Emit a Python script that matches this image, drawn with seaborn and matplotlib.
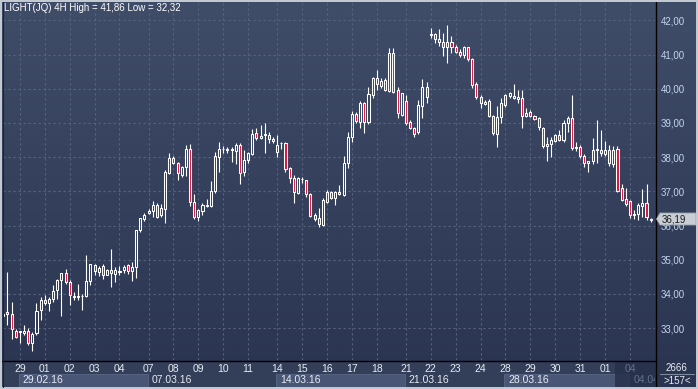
import numpy as np
import pandas as pd
import matplotlib
matplotlib.use("Agg")
import matplotlib.pyplot as plt
import matplotlib.patches as mpatches
from matplotlib.lines import Line2D
import seaborn as sns

# ---------------- data ----------------
opens = [33.40, 33.47, 33.42, 32.92, 32.89, 32.87, 32.91, 32.55, 32.87, 33.54,
         33.81, 33.74, 33.84, 34.10, 34.40, 34.62, 34.35, 33.92, 33.92, 33.93,
         33.93, 34.38, 34.84, 34.64, 34.81, 34.56, 34.69, 34.58, 34.65, 34.70,
         34.84, 34.68, 34.80, 35.87, 36.19, 36.36, 36.43, 36.60, 36.31, 36.47,
         37.54, 37.96, 37.82, 37.48, 37.72, 38.24, 36.70, 36.24, 36.43, 36.57,
         36.57, 37.00, 38.01, 38.23, 38.21, 38.22, 38.19, 38.35, 37.55, 37.92,
         38.09, 38.70, 38.55, 38.65, 38.65, 38.52, 38.15, 38.40, 38.40, 37.67,
         37.38, 36.96, 37.35, 37.33, 36.92, 36.31, 36.21, 36.02, 36.70, 36.99,
         36.81, 36.97, 36.89, 37.82, 38.60, 39.25, 39.02, 39.57, 39.02, 39.82,
         40.30, 40.09, 40.25, 39.93, 41.03, 39.96, 39.23, 39.64, 39.02, 38.84,
         38.74, 39.50, 40.06, 41.57, 41.60, 41.44, 41.38, 41.23, 41.38, 41.21,
         41.07, 40.98, 41.21, 40.87, 40.13, 39.75, 39.55, 39.65, 39.20, 38.68,
         39.16, 39.52, 39.80, 39.79, 39.71, 39.72, 39.20, 39.31, 39.20, 39.14,
         38.84, 38.33, 38.37, 38.47, 38.66, 38.50, 38.99, 39.13, 38.26, 38.30,
         38.03, 37.82, 37.88, 38.20, 38.20, 38.10, 38.20, 37.79, 38.24, 37.09,
         36.77, 36.72, 36.31, 36.33, 36.58, 36.65, 36.16]
highs = [33.52, 34.64, 33.77, 32.97, 32.92, 33.10, 32.99, 32.89, 33.72, 33.91,
         33.96, 33.91, 34.25, 34.45, 34.62, 34.74, 34.40, 34.06, 34.28, 34.01,
         35.13, 34.86, 34.86, 34.81, 34.86, 34.74, 35.30, 34.80, 34.82, 34.84,
         34.87, 34.94, 35.87, 36.23, 36.36, 36.47, 36.73, 36.67, 36.62, 37.62,
         38.11, 38.03, 37.87, 37.74, 38.35, 38.38, 36.92, 36.48, 36.65, 36.77,
         37.30, 38.16, 38.45, 38.32, 38.29, 38.30, 38.42, 38.42, 38.21, 38.16,
         38.81, 38.84, 38.94, 38.99, 38.74, 38.58, 38.65, 38.45, 38.45, 37.72,
         37.48, 37.41, 37.41, 37.33, 36.96, 36.38, 36.50, 36.80, 37.04, 37.01,
         37.01, 37.18, 38.04, 38.72, 39.36, 39.33, 39.64, 39.62, 40.06, 40.35,
         40.55, 40.30, 40.30, 41.18, 41.18, 40.06, 39.86, 39.81, 39.08, 38.89,
         39.67, 40.28, 40.21, 41.77, 41.64, 41.74, 41.62, 41.86, 41.54, 41.28,
         41.15, 41.25, 41.23, 40.89, 40.21, 39.82, 39.67, 39.69, 39.23, 39.49,
         39.72, 39.84, 39.91, 40.13, 39.96, 39.96, 39.43, 39.38, 39.23, 39.18,
         38.87, 38.60, 38.60, 38.69, 38.79, 39.08, 39.21, 39.82, 38.43, 38.35,
         38.08, 37.88, 38.57, 39.08, 38.79, 38.47, 38.34, 38.31, 38.33, 37.20,
         37.10, 36.75, 36.45, 36.65, 37.07, 37.20, 36.23]
lows = [33.23, 33.08, 32.68, 32.71, 32.55, 32.79, 32.52, 32.32, 32.79, 33.23,
        33.67, 33.49, 33.77, 33.86, 33.36, 34.30, 33.67, 33.81, 33.81, 33.52,
        33.91, 34.25, 34.56, 34.52, 34.45, 34.54, 34.20, 34.36, 34.55, 34.62,
        34.58, 34.39, 34.46, 35.82, 36.14, 36.34, 36.24, 36.21, 36.24, 36.08,
        37.51, 37.80, 37.33, 37.41, 37.45, 36.57, 36.18, 36.14, 36.31, 36.53,
        36.53, 36.94, 37.55, 38.11, 38.13, 37.87, 37.80, 37.20, 37.45, 37.84,
        38.06, 38.50, 38.52, 38.13, 38.42, 38.40, 37.99, 38.23, 37.55, 37.23,
        36.67, 36.92, 37.25, 36.82, 36.26, 36.14, 35.95, 35.99, 36.65, 36.77,
        36.60, 36.89, 36.87, 37.69, 38.45, 38.99, 38.84, 38.70, 38.96, 39.72,
        39.96, 40.03, 39.93, 39.89, 39.86, 39.13, 39.21, 38.94, 38.82, 38.60,
        38.69, 39.13, 39.59, 41.47, 41.33, 41.25, 40.96, 40.76, 41.04, 41.04,
        40.92, 40.89, 40.82, 40.01, 39.69, 39.43, 39.52, 39.18, 38.65, 38.30,
        38.99, 39.47, 39.72, 39.69, 39.57, 38.84, 39.16, 39.16, 39.08, 38.79,
        38.28, 37.89, 38.00, 38.43, 38.47, 38.45, 38.72, 38.21, 38.18, 37.98,
        37.72, 37.57, 37.79, 37.82, 38.04, 38.04, 37.75, 37.72, 36.99, 36.72,
        36.58, 36.21, 36.19, 36.16, 36.26, 36.16, 36.11]
closes = [33.35, 33.42, 32.97, 32.74, 32.90, 32.92, 32.55, 32.84, 33.51, 33.81,
          33.74, 33.86, 34.08, 34.42, 34.62, 34.35, 33.96, 33.94, 33.93, 33.93,
          34.38, 34.86, 34.66, 34.76, 34.56, 34.69, 34.60, 34.70, 34.65, 34.80,
          34.68, 34.80, 35.87, 36.21, 36.31, 36.43, 36.60, 36.26, 36.50, 37.57,
          37.96, 37.82, 37.53, 37.72, 38.24, 36.70, 36.24, 36.45, 36.60, 36.57,
          37.01, 38.03, 38.23, 38.23, 38.21, 38.22, 38.35, 37.53, 37.92, 38.13,
          38.68, 38.55, 38.62, 38.65, 38.52, 38.46, 38.35, 38.40, 37.64, 37.38,
          36.99, 37.38, 37.35, 36.92, 36.28, 36.18, 36.04, 36.75, 36.97, 36.79,
          36.97, 36.91, 37.82, 38.60, 39.26, 39.06, 39.57, 39.02, 39.84, 40.32,
          40.13, 40.22, 39.96, 41.03, 39.91, 39.28, 39.86, 38.99, 38.84, 38.69,
          39.52, 40.06, 39.77, 41.57, 41.44, 41.38, 41.21, 41.38, 41.21, 41.08,
          40.98, 41.21, 40.87, 40.11, 39.75, 39.57, 39.60, 39.21, 38.70, 39.16,
          39.57, 39.81, 39.87, 39.72, 39.75, 39.20, 39.28, 39.20, 39.12, 38.87,
          38.32, 38.38, 38.50, 38.66, 38.50, 38.99, 39.13, 38.26, 38.30, 38.03,
          37.82, 37.88, 38.21, 38.24, 38.11, 38.20, 37.82, 38.21, 37.01, 36.75,
          36.62, 36.31, 36.35, 36.60, 36.65, 36.26, 36.19]

day_labels = ["29", "01", "02", "03", "04", "07", "08", "09", "10", "11",
              "14", "15", "16", "17", "18", "21", "22", "23", "24", "28",
              "29", "30", "31", "01", "04"]
day_start_bar = [4, 10, 16, 22, 28, 35, 41, 47, 53, 59,
                 66, 72, 78, 84, 90, 97, 103, 109, 115, 121,
                 127, 133, 139, 145, 151]
week_labels = ["29.02.16", "07.03.16", "14.03.16", "21.03.16", "28.03.16", "04.04"]
week_start_day = [0, 5, 10, 15, 19, 24]
price_ticks = [33, 34, 35, 36, 37, 38, 39, 40, 41, 42]
title = "LIGHT(JQ) 4H High = 41,86 Low = 32,32"
last_price = 36.19
bar_count_text = "2666"
bars_text = ">157<"

df = pd.DataFrame({"open": opens, "high": highs, "low": lows, "close": closes})
df["bar"] = np.arange(len(df))
df["up"] = df["close"] >= df["open"]

# ---------------- style ----------------
sns.set_theme(style="dark")
plt.rcParams["font.family"] = ["Liberation Sans", "DejaVu Sans"]

W, H = 698, 389
fig = plt.figure(figsize=(W / 100, H / 100), dpi=100)

def fx(x):
    return x / W

def fy(y):
    return 1 - y / H

# gradient background
bg = fig.add_axes([0, 0, 1, 1], zorder=-10)
top = np.array([64, 77, 104]) / 255
bot = np.array([42, 52, 80]) / 255
t = np.linspace(0, 1, 256)[:, None]
grad = top[None, :] * (1 - t) + bot[None, :] * t
bg.imshow(grad[:, None, :], aspect="auto", extent=[0, 1, 0, 1])
bg.set_axis_off()

# main axes
x0, x1, y0, y1 = 3, 655, 3, 360
ax = fig.add_axes([fx(x0), fy(y1), (x1 - x0) / W, (y1 - y0) / H])
ax.set_facecolor((0, 0, 0, 0))
for s in ax.spines.values():
    s.set_visible(False)

grid_c = "#56647f"
for p in price_ticks:
    ax.axhline(p, color=grid_c, lw=0.8, dashes=(2, 2.5), zorder=1)
for b in day_start_bar:
    ax.axvline(b, color=grid_c, lw=0.8, dashes=(2, 2.5), zorder=1)

# wicks (outside body)
body_top = np.maximum(df["open"], df["close"])
body_bot = np.minimum(df["open"], df["close"])
ax.vlines(df["bar"], body_top, df["high"], color="white", lw=0.8, zorder=2)
ax.vlines(df["bar"], df["low"], body_bot, color="white", lw=0.8, zorder=2)

# bodies
height = np.maximum(body_top - body_bot, 0.015)
up = df[df["up"]]
dn = df[~df["up"]]
ax.bar(up["bar"], height[df["up"]], bottom=body_bot[df["up"]], width=0.5,
       facecolor="none", edgecolor="white", linewidth=0.75, zorder=3)
ax.bar(dn["bar"], height[~df["up"]], bottom=body_bot[~df["up"]], width=0.5,
       facecolor="#e0143c", edgecolor="white", linewidth=0.75, zorder=3)

ax.set_xlim(-0.072, 157.04)
ax.set_ylim(42 - (y1 - 20.3) / 34.2, 42 + (20.3 - y0) / 34.2)
ax.set_xticks([])
ax.yaxis.tick_right()
ax.set_yticks(price_ticks)
ax.set_yticklabels([f"{p:.2f}".replace(".", ",") for p in price_ticks])
ax.tick_params(axis="y", length=0, pad=4, labelsize=7, labelcolor="#c4d4ee")
ax.grid(False)

# title
fig.text(fx(4), fy(8), title, color="white", fontsize=7, ha="left", va="center")

# bottom panel
fig.add_artist(mpatches.Rectangle((fx(2), fy(387)), fx(653), (387 - 361) / H,
                                  transform=fig.transFigure, facecolor="#333e58",
                                  edgecolor="none", zorder=1))
day_x = [3.3 + 4.15 * b for b in day_start_bar]
week_bounds = [day_x[i] for i in week_start_day] + [655]
for k, lab in enumerate(week_labels):
    xs = week_bounds[k]
    xe = week_bounds[k + 1]
    if k % 2 == 0:
        fig.add_artist(mpatches.Rectangle((fx(xs - 1), fy(387)), (xe - xs) / W, 13 / H,
                                          transform=fig.transFigure,
                                          facecolor="#4a5675", edgecolor="#5a6785",
                                          lw=0.6, zorder=2))
    if k < len(week_labels) - 1:
        fig.text(fx(xs + 3), fy(380), lab, color="#e6ecf4", fontsize=7.5,
                 ha="left", va="center", zorder=3)
for lab, xx in zip(day_labels[:-1], day_x[:-1]):
    fig.text(fx(xx), fy(368.5), lab, color="#e6ecf4", fontsize=7.5,
             ha="center", va="center", zorder=3)

# dark overlay at the current day
ov = mpatches.Rectangle((fx(615), fy(388)), 40 / W, 27 / H, transform=fig.transFigure,
                        facecolor="#27314a", edgecolor="none", alpha=0.85, zorder=4)
fig.add_artist(ov)
fig.text(fx(day_x[-1]), fy(368.5), day_labels[-1], color="#64718c", fontsize=7.5,
         ha="center", va="center", zorder=5)
tlast = fig.text(fx(634), fy(380), week_labels[-1], color="#64718c", fontsize=7.5,
                 ha="left", va="center", zorder=5)
tlast.set_clip_path(ov)

# bottom-right counter
fig.text(fx(677), fy(368), bar_count_text, color="#e6ecf4", fontsize=7,
         ha="center", va="center", zorder=5)
fig.add_artist(Line2D([fx(660), fx(694)], [fy(374), fy(374)], transform=fig.transFigure,
                      color="#7c889e", lw=0.8, zorder=5))
fig.text(fx(677), fy(380.5), bars_text, color="#e6ecf4", fontsize=7,
         ha="center", va="center", zorder=5)

# separators
fig.add_artist(Line2D([fx(655.5), fx(655.5)], [fy(2), fy(388)], transform=fig.transFigure,
                      color="black", lw=1.0, zorder=6))
fig.add_artist(Line2D([fx(2), fx(655.5)], [fy(360.5), fy(360.5)], transform=fig.transFigure,
                      color="black", lw=1.0, zorder=6))

# current price tag
py = 20.3 + (42 - last_price) * 34.2
tag = mpatches.Polygon([(fx(656.5), fy(py)), (fx(660), fy(py - 6)), (fx(696), fy(py - 6)),
                        (fx(696), fy(py + 6)), (fx(660), fy(py + 6))],
                       closed=True, transform=fig.transFigure, facecolor="#c9cdd4",
                       edgecolor="#9aa2b0", lw=0.6, zorder=7)
fig.add_artist(tag)
fig.text(fx(662), fy(py), f"{last_price:.2f}".replace(".", ","), color="#1c1c1c",
         fontsize=7, ha="left", va="center", zorder=8)

# outer frame
frame_c = "#c3c9d1"
for rect in [(0, 0, 2, H), (W - 2, 0, 2, H), (0, 0, W, 1.5), (0, H - 2, W, 2)]:
    rx, ry, rw, rh = rect
    fig.add_artist(mpatches.Rectangle((fx(rx), fy(ry + rh)), rw / W, rh / H,
                                      transform=fig.transFigure, facecolor=frame_c,
                                      edgecolor="none", zorder=9))
fig.add_artist(Line2D([fx(2.5), fx(2.5)], [fy(1.5), fy(387)], transform=fig.transFigure,
                      color="#1c2333", lw=0.8, zorder=9))

fig.savefig("out.png", dpi=100)
